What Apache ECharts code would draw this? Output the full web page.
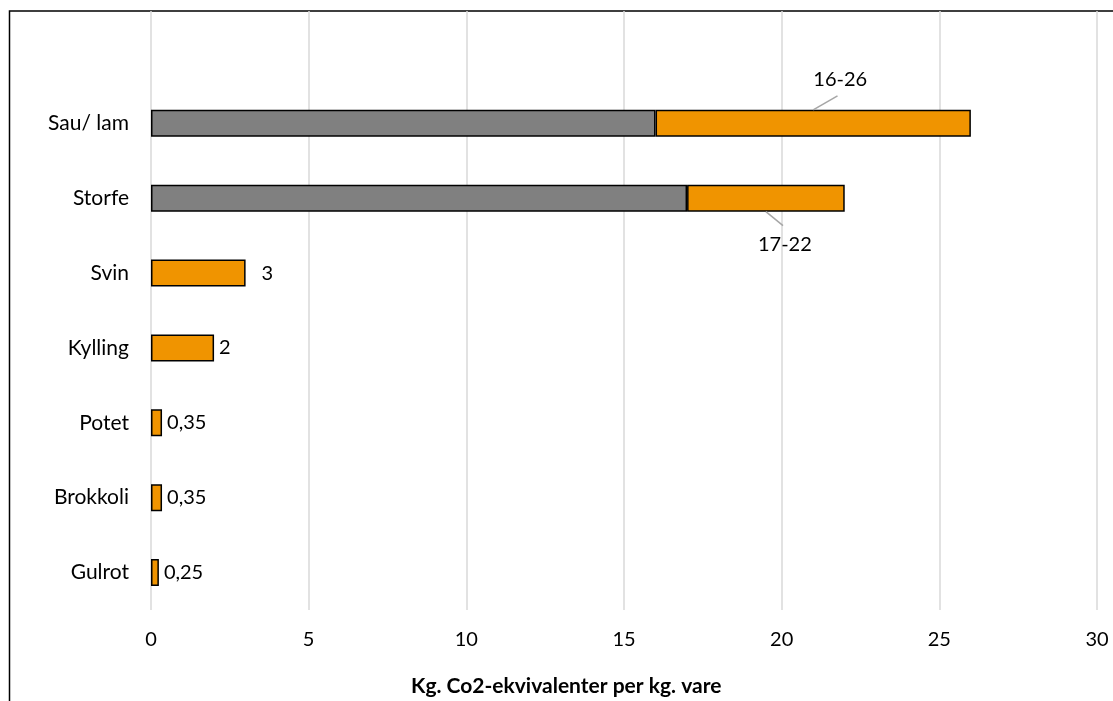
<!DOCTYPE html>
<html>
<head>
<meta charset="utf-8">
<script src="https://cdn.jsdelivr.net/npm/echarts@6/dist/echarts.min.js"></script>
<style>
html,body{margin:0;padding:0;background:#fff;}
#chart{width:1113px;height:701px;}
</style>
</head>
<body>
<div id="chart"></div>
<script>
// Categories listed bottom-to-top; the trailing blank row leaves headroom above the top bar
const categories = ['Gulrot', 'Brokkoli', 'Potet', 'Kylling', 'Svin', 'Storfe', 'Sau/ lam', ''];
// Lower end of the emission range (0 where a single value is given)
const lowValues = [0, 0, 0, 0, 0, 17, 16, null];
// Upper end of the range / single value
const highValues = [0.25, 0.35, 0.35, 2, 3, 22, 26, null];
const xTicks = [0, 5, 10, 15, 20, 25, 30];
const axisTitle = 'Kg. Co2-ekvivalenter per kg. vare';

const FONT = 'Lato, "Open Sans", sans-serif';
const FS = 20;
const BAR = 27;
const fmt = v => String(v).replace('.', ',');

// Range labels are pulled away from the bar and tied back to it with a leader line
const rangeOffsets = {
  'Sau/ lam': { pos: 'top', dx: 27, dy: -14 },
  'Storfe': { pos: 'bottom', dx: 19, dy: 17 }
};

const baseData = lowValues.map(v => (v ? v : '-'));
const rangeData = highValues.map((h, i) => {
  if (h == null) return '-';
  const low = lowValues[i] || 0;
  const item = { value: h - low, low: low, high: h };
  const off = rangeOffsets[categories[i]];
  if (low > 0 && off) {
    item.label = { position: off.pos, distance: 6 };
  } else if (categories[i] === 'Svin') {
    item.label = { distance: 16 };
  }
  return item;
});

const frameGraphics = [
  {
    id: 'frame',
    type: 'rect',
    silent: true,
    shape: { x: 9.5, y: 11, width: 1120, height: 720 },
    style: { fill: 'none', stroke: '#000', lineWidth: 1.5 }
  },
  {
    id: 'axisTitle',
    type: 'text',
    left: 411,
    top: 676,
    style: { text: axisTitle, fill: '#000', fontSize: 21, fontWeight: 'bold', fontFamily: FONT }
  }
];

const chart = echarts.init(document.getElementById('chart'));
chart.setOption({
  animation: false,
  backgroundColor: '#ffffff',
  textStyle: { fontFamily: FONT },
  grid: { left: 151, right: 16, top: 11, bottom: 91, containLabel: false },
  xAxis: {
    type: 'value',
    min: xTicks[0],
    max: xTicks[xTicks.length - 1],
    interval: xTicks[1] - xTicks[0],
    axisLine: { show: false },
    axisTick: { show: false },
    splitLine: { show: true, lineStyle: { color: '#d9d9d9', width: 1.5 } },
    axisLabel: { color: '#000', fontSize: FS, fontFamily: FONT, margin: 20 }
  },
  yAxis: {
    type: 'category',
    data: categories,
    axisLine: { show: false },
    axisTick: { show: false },
    splitLine: { show: false },
    axisLabel: { color: '#000', fontSize: 21, fontFamily: FONT, margin: 22 }
  },
  series: [
    {
      name: 'Lav',
      type: 'bar',
      stack: 'total',
      barWidth: BAR,
      data: baseData,
      itemStyle: { color: '#808080', borderColor: '#000', borderWidth: 1.5 },
      label: { show: false }
    },
    {
      name: 'Spenn',
      type: 'bar',
      stack: 'total',
      barWidth: BAR,
      data: rangeData,
      itemStyle: { color: '#f09400', borderColor: '#000', borderWidth: 1.5 },
      label: {
        show: true,
        position: 'right',
        distance: 5,
        color: '#000',
        fontSize: FS,
        fontFamily: FONT,
        formatter: p => {
          const d = p.data;
          return d.low > 0 ? d.low + '-' + d.high : fmt(d.high);
        }
      },
      labelLayout: p => {
        const off = rangeOffsets[categories[p.dataIndex]];
        return off && lowValues[p.dataIndex] > 0 ? { dx: off.dx, dy: off.dy } : {};
      }
    }
  ],
  graphic: frameGraphics
});

// Leader lines from the middle of each range segment towards its label
const leaders = [];
categories.forEach((c, i) => {
  const off = rangeOffsets[c];
  if (!off || !(lowValues[i] > 0)) return;
  const mid = (lowValues[i] + highValues[i]) / 2;
  const p = chart.convertToPixel({ gridIndex: 0 }, [mid, c]);
  const sgn = off.pos === 'top' ? -1 : 1;
  const y0 = p[1] + sgn * BAR / 2;
  leaders.push({
    id: 'leader-' + i,
    type: 'line',
    silent: true,
    z: 10,
    shape: { x1: p[0], y1: y0, x2: p[0] + off.dx * 0.9, y2: y0 + sgn * 14 },
    style: { stroke: '#a6a6a6', lineWidth: 1.5 }
  });
});
chart.setOption({ graphic: frameGraphics.concat(leaders) });
</script>
</body>
</html>
